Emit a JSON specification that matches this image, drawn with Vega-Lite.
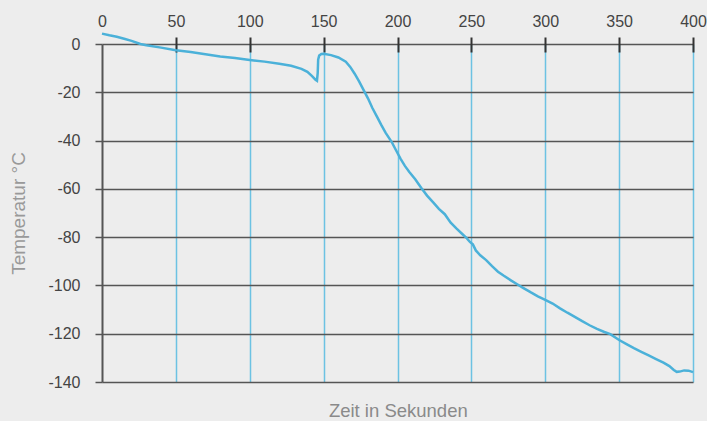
{
  "$schema": "https://vega.github.io/schema/vega-lite/v6.json",
  "width": 591,
  "height": 338,
  "autosize": {"type": "none"},
  "padding": {"left": 102, "top": 44, "right": 14, "bottom": 39},
  "background": "#ededed",
  "config": {
    "view": {"stroke": null},
    "font": "Liberation Sans"
  },
  "data": {
    "values": [
      {"t": 0, "T": 4.3}, {"t": 5, "T": 3.6}, {"t": 10, "T": 3.0}, {"t": 15, "T": 2.2},
      {"t": 20, "T": 1.3}, {"t": 26, "T": 0}, {"t": 30, "T": -0.5}, {"t": 40, "T": -1.5},
      {"t": 50, "T": -2.6}, {"t": 60, "T": -3.3}, {"t": 70, "T": -4.2}, {"t": 80, "T": -5.2},
      {"t": 90, "T": -5.8}, {"t": 100, "T": -6.6}, {"t": 110, "T": -7.3}, {"t": 120, "T": -8.2},
      {"t": 128, "T": -9.0}, {"t": 135, "T": -10.3}, {"t": 139, "T": -11.5}, {"t": 142, "T": -13.2},
      {"t": 144.5, "T": -14.8}, {"t": 145.5, "T": -15.2}, {"t": 146, "T": -12}, {"t": 146.3, "T": -6.5},
      {"t": 147, "T": -4.8}, {"t": 148.5, "T": -4.1}, {"t": 150, "T": -4.0}, {"t": 155, "T": -4.6},
      {"t": 160, "T": -5.6}, {"t": 165, "T": -7.3}, {"t": 168, "T": -9.5}, {"t": 171, "T": -12.3},
      {"t": 174, "T": -15.5}, {"t": 177, "T": -19}, {"t": 180, "T": -22.5}, {"t": 183, "T": -26.5},
      {"t": 186, "T": -30}, {"t": 189, "T": -33.5}, {"t": 192, "T": -36.8}, {"t": 196, "T": -40.5},
      {"t": 199, "T": -44}, {"t": 202, "T": -47.5}, {"t": 205, "T": -50.5}, {"t": 208, "T": -53},
      {"t": 212, "T": -56}, {"t": 216, "T": -59.5}, {"t": 220, "T": -62.8}, {"t": 224, "T": -65.5},
      {"t": 228, "T": -68.3}, {"t": 232, "T": -70.5}, {"t": 236, "T": -74}, {"t": 240, "T": -76.5},
      {"t": 244, "T": -78.8}, {"t": 247, "T": -80.5}, {"t": 249, "T": -82}, {"t": 251, "T": -83},
      {"t": 253, "T": -85.5}, {"t": 256, "T": -87.5}, {"t": 260, "T": -89.5}, {"t": 264, "T": -92},
      {"t": 268, "T": -94.3}, {"t": 272, "T": -96}, {"t": 277, "T": -98}, {"t": 281, "T": -99.5},
      {"t": 285, "T": -101}, {"t": 290, "T": -102.8}, {"t": 295, "T": -104.5}, {"t": 300, "T": -106},
      {"t": 305, "T": -107.5}, {"t": 310, "T": -109.5}, {"t": 315, "T": -111.3}, {"t": 320, "T": -113},
      {"t": 325, "T": -114.8}, {"t": 330, "T": -116.5}, {"t": 335, "T": -118}, {"t": 340, "T": -119.3},
      {"t": 344, "T": -120.2}, {"t": 350, "T": -122.6}, {"t": 355, "T": -124.3}, {"t": 360, "T": -126},
      {"t": 365, "T": -127.5}, {"t": 370, "T": -129}, {"t": 375, "T": -130.5}, {"t": 380, "T": -132},
      {"t": 384, "T": -133.4}, {"t": 387, "T": -135}, {"t": 389, "T": -135.8}, {"t": 391, "T": -135.7},
      {"t": 394, "T": -135.2}, {"t": 397, "T": -135.3}, {"t": 400, "T": -135.9}
    ]
  },
  "mark": {"type": "line", "color": "#4bb1d9", "strokeWidth": 2.5, "clip": false},
  "encoding": {
    "x": {
      "field": "t",
      "type": "quantitative",
      "scale": {"domain": [0, 400], "nice": false, "zero": false},
      "axis": {
        "orient": "top",
        "offset": -8,
        "values": [0, 50, 100, 150, 200, 250, 300, 350, 400],
        "domain": false,
        "tickSize": 15,
        "tickWidth": 2,
        "tickColor": {"condition": {"test": "datum.value == 0", "value": "transparent"}, "value": "#333333"},
        "grid": true,
        "gridColor": {"condition": {"test": "datum.value == 0", "value": "transparent"}, "value": "#6cc2e3"},
        "gridWidth": 1.5,
        "gridOpacity": 1,
        "labelFontSize": 16,
        "labelColor": "#444444",
        "labelPadding": 8,
        "labelFlush": false,
        "labelExpr": "'' + datum.value",
        "title": "Zeit in Sekunden",
        "titleFontSize": 18.5,
        "titleFontWeight": "normal",
        "titleColor": "#8a8a8a",
        "titleX": 295.8,
        "titleY": 358.5,
        "titleAlign": "center",
        "titleBaseline": "middle"
      }
    },
    "y": {
      "field": "T",
      "type": "quantitative",
      "scale": {"domain": [-140, 0], "nice": false, "zero": false},
      "axis": {
        "orient": "left",
        "values": [0, -20, -40, -60, -80, -100, -120, -140],
        "domain": true,
        "domainColor": "#555555",
        "domainWidth": 2,
        "tickSize": 7,
        "tickWidth": 1.5,
        "tickColor": "#555555",
        "grid": true,
        "gridColor": "#555555",
        "gridWidth": 1.5,
        "gridOpacity": 1,
        "labelFontSize": 16,
        "labelColor": "#444444",
        "labelPadding": 15,
        "labelFlush": false,
        "labelExpr": "'' + datum.value",
        "title": "Temperatur °C",
        "titleFontSize": 19,
        "titleFontWeight": "normal",
        "titleColor": "#999999",
        "titleAngle": -90,
        "titleX": -84,
        "titleY": 169,
        "titleAlign": "center",
        "titleBaseline": "middle"
      }
    }
  }
}
